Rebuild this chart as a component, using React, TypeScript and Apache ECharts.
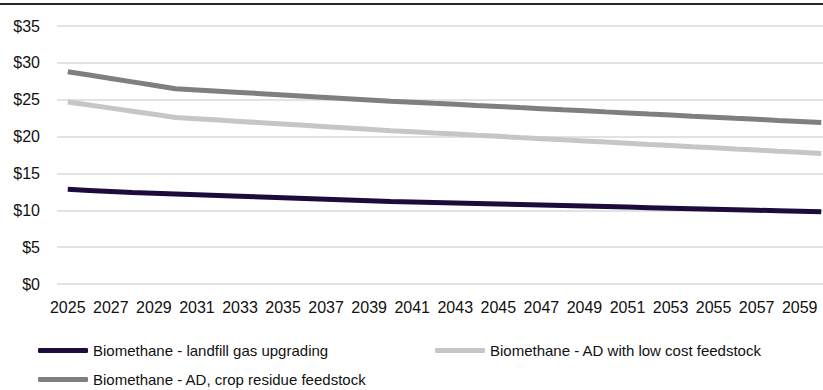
import React, { useEffect, useRef } from "react";
import * as echarts from "echarts";

const years: string[] = [
  "2025","2026","2027","2028","2029","2030","2031","2032","2033","2034","2035","2036",
  "2037","2038","2039","2040","2041","2042","2043","2044","2045","2046","2047","2048",
  "2049","2050","2051","2052","2053","2054","2055","2056","2057","2058","2059","2060",
];

const landfill: number[] = [
  12.85, 12.7, 12.55, 12.4, 12.3, 12.2, 12.1, 12.0, 11.9, 11.8, 11.7, 11.6,
  11.5, 11.4, 11.3, 11.2, 11.13, 11.06, 10.99, 10.92, 10.85, 10.78, 10.71, 10.64,
  10.57, 10.5, 10.43, 10.36, 10.29, 10.22, 10.15, 10.08, 10.01, 9.94, 9.87, 9.8,
];

const lowCost: number[] = [
  24.7, 24.28, 23.86, 23.44, 23.02, 22.6, 22.42, 22.24, 22.06, 21.88, 21.7, 21.52,
  21.34, 21.16, 20.98, 20.8, 20.65, 20.49, 20.34, 20.18, 20.03, 19.87, 19.72, 19.56,
  19.41, 19.25, 19.1, 18.94, 18.79, 18.63, 18.48, 18.32, 18.17, 18.01, 17.86, 17.7,
];

const cropResidue: number[] = [
  28.8, 28.34, 27.88, 27.42, 26.96, 26.5, 26.33, 26.16, 25.99, 25.82, 25.65, 25.48,
  25.31, 25.14, 24.97, 24.8, 24.66, 24.51, 24.37, 24.22, 24.08, 23.93, 23.79, 23.64,
  23.5, 23.35, 23.21, 23.06, 22.92, 22.77, 22.63, 22.48, 22.34, 22.19, 22.05, 21.9,
];

const seriesNames: string[] = [
  "Biomethane - landfill gas upgrading",
  "Biomethane - AD with low cost feedstock",
  "Biomethane - AD, crop residue feedstock",
];

const FONT = "'Liberation Sans', Arial, sans-serif";
const TEXT_COLOR = "#111111";

export default function App() {
  const ref = useRef<HTMLDivElement>(null);

  useEffect(() => {
    if (!ref.current) return;
    const chart = echarts.init(ref.current, undefined, { renderer: "svg" });
    const legendBase = {
      icon: "roundRect",
      itemWidth: 50,
      itemHeight: 5,
      padding: 0,
      textStyle: { fontFamily: FONT, fontSize: 15, color: TEXT_COLOR },
      selectedMode: false,
    };
    chart.setOption({
      animation: false,
      backgroundColor: "#ffffff",
      color: ["#1c0b3b", "#c6c6c6", "#7f7f7f"],
      textStyle: { fontFamily: FONT },
      grid: { left: 57, right: 3, top: 26, bottom: 106, containLabel: false },
      graphic: [
        {
          type: "line",
          shape: { x1: 0, y1: 4, x2: 835, y2: 4 },
          style: { stroke: "#262626", lineWidth: 2 },
        },
      ],
      legend: [
        { ...legendBase, data: [seriesNames[0]], left: 38, top: 343 },
        { ...legendBase, data: [seriesNames[1]], left: 435, top: 343 },
        { ...legendBase, data: [seriesNames[2]], left: 38, top: 372 },
      ],
      xAxis: {
        type: "category",
        data: years,
        boundaryGap: true,
        axisLine: { show: false },
        axisTick: { show: false },
        axisLabel: {
          interval: 1,
          fontFamily: FONT,
          fontSize: 16,
          color: TEXT_COLOR,
          margin: 15,
        },
        splitLine: { show: false },
      },
      yAxis: {
        type: "value",
        min: 0,
        max: 35,
        interval: 5,
        axisLine: { show: false },
        axisTick: { show: false },
        axisLabel: {
          formatter: (v: number) => "$" + v,
          fontFamily: FONT,
          fontSize: 16,
          color: TEXT_COLOR,
          margin: 17,
        },
        splitLine: { show: true, lineStyle: { color: "#d9d9d9", width: 1.5 } },
      },
      series: [
        {
          name: seriesNames[0],
          type: "line",
          data: landfill,
          symbol: "none",
          lineStyle: { width: 5, color: "#1c0b3b" },
        },
        {
          name: seriesNames[1],
          type: "line",
          data: lowCost,
          symbol: "none",
          lineStyle: { width: 5, color: "#c6c6c6" },
        },
        {
          name: seriesNames[2],
          type: "line",
          data: cropResidue,
          symbol: "none",
          lineStyle: { width: 5, color: "#7f7f7f" },
        },
      ],
    });
    return () => chart.dispose();
  }, []);

  return (
    <div
      style={{
        position: "fixed",
        left: 0,
        top: 0,
        width: 823,
        height: 390,
        overflow: "hidden",
        background: "#fff",
      }}
    >
      <div ref={ref} style={{ width: 835, height: 390 }} />
    </div>
  );
}
